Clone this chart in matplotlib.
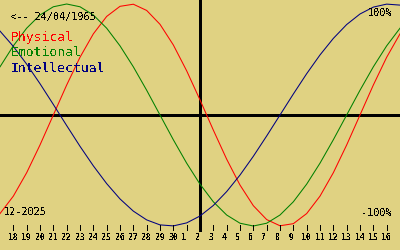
import matplotlib
matplotlib.use("Agg")
import matplotlib.pyplot as plt

# biorhythm values per day, day offset -15..+15 around 2 Dec 2025
days = list(range(-15, 16))
physical = [-0.888, -0.731, -0.520, -0.270, 0.0, 0.270, 0.520, 0.731, 0.888, 0.979,
            0.998, 0.942, 0.817, 0.631, 0.398, 0.136, -0.136, -0.398, -0.631, -0.817,
            -0.942, -0.998, -0.979, -0.888, -0.731, -0.520, -0.270, 0.0, 0.270, 0.520, 0.731]
emotional = [0.434, 0.623, 0.782, 0.901, 0.975, 1.0, 0.975, 0.901, 0.782, 0.623,
             0.434, 0.223, 0.0, -0.223, -0.434, -0.623, -0.782, -0.901, -0.975, -1.0,
             -0.975, -0.901, -0.782, -0.623, -0.434, -0.223, 0.0, 0.223, 0.434, 0.623, 0.782]
intellectual = [0.756, 0.618, 0.458, 0.282, 0.095, -0.095, -0.282, -0.458, -0.618, -0.756,
                -0.866, -0.945, -0.990, -0.999, -0.972, -0.910, -0.815, -0.690, -0.541, -0.372,
                -0.189, 0.0, 0.189, 0.372, 0.541, 0.690, 0.815, 0.910, 0.972, 0.999, 0.990]

tick_days = list(range(-14, 15))
tick_labels = [str(n) for n in list(range(18, 31)) + list(range(1, 17))]

birth = "<-- 24/04/1965"
month = "12-2025"
names = ["Physical", "Emotional", "Intellectual"]
colors = ["#ff0000", "#008000", "#000080"]

bg = "#e0d282"
plt.rcParams["text.antialiased"] = False
fig = plt.figure(figsize=(4, 2.5), dpi=100, facecolor=bg)
ax = fig.add_axes([0, 0, 1, 1])
ax.set_facecolor(bg)
ax.set_xlim(-15, 15)
ax.set_ylim(-135 / 111, 115 / 111)
ax.axis("off")

def py(p):
    # pixel row -> data y
    return (115 - p) / 111

ax.axhline(0, color="black", lw=0.9, antialiased=False)
ax.plot([0, 0], [py(0), py(230)], color="black", lw=0.9, antialiased=False)

for vals, c in zip([physical, emotional, intellectual], colors):
    ax.plot(days, vals, color=c, lw=0.75)

for d, lab in zip(tick_days, tick_labels):
    ax.plot([d, d], [py(225), py(230)], color="black", lw=0.72, antialiased=False)
    ax.text(d - 0.37, py(237), lab, ha="left", va="center", fontsize=5.8,
            family="DejaVu Sans Mono", fontweight="bold", color="black")

mono = "DejaVu Sans Mono"
ax.text(-14.25, py(17), birth, ha="left", va="center", fontsize=7.4, family=mono)
ax.text(-14.7, py(212), month, ha="left", va="center", fontsize=7.4, family=mono)
ax.text(14.4, py(13), "100%", ha="right", va="center", fontsize=7.4, family=mono)
ax.text(14.4, py(213), "-100%", ha="right", va="center", fontsize=7.4, family=mono)
for i, (n, c) in enumerate(zip(names, colors)):
    ax.text(-14.2, py(38 + 15 * i), n, ha="left", va="center", fontsize=9.4,
            family=mono, color=c)

fig.savefig("out.png", dpi=100, facecolor=bg)
